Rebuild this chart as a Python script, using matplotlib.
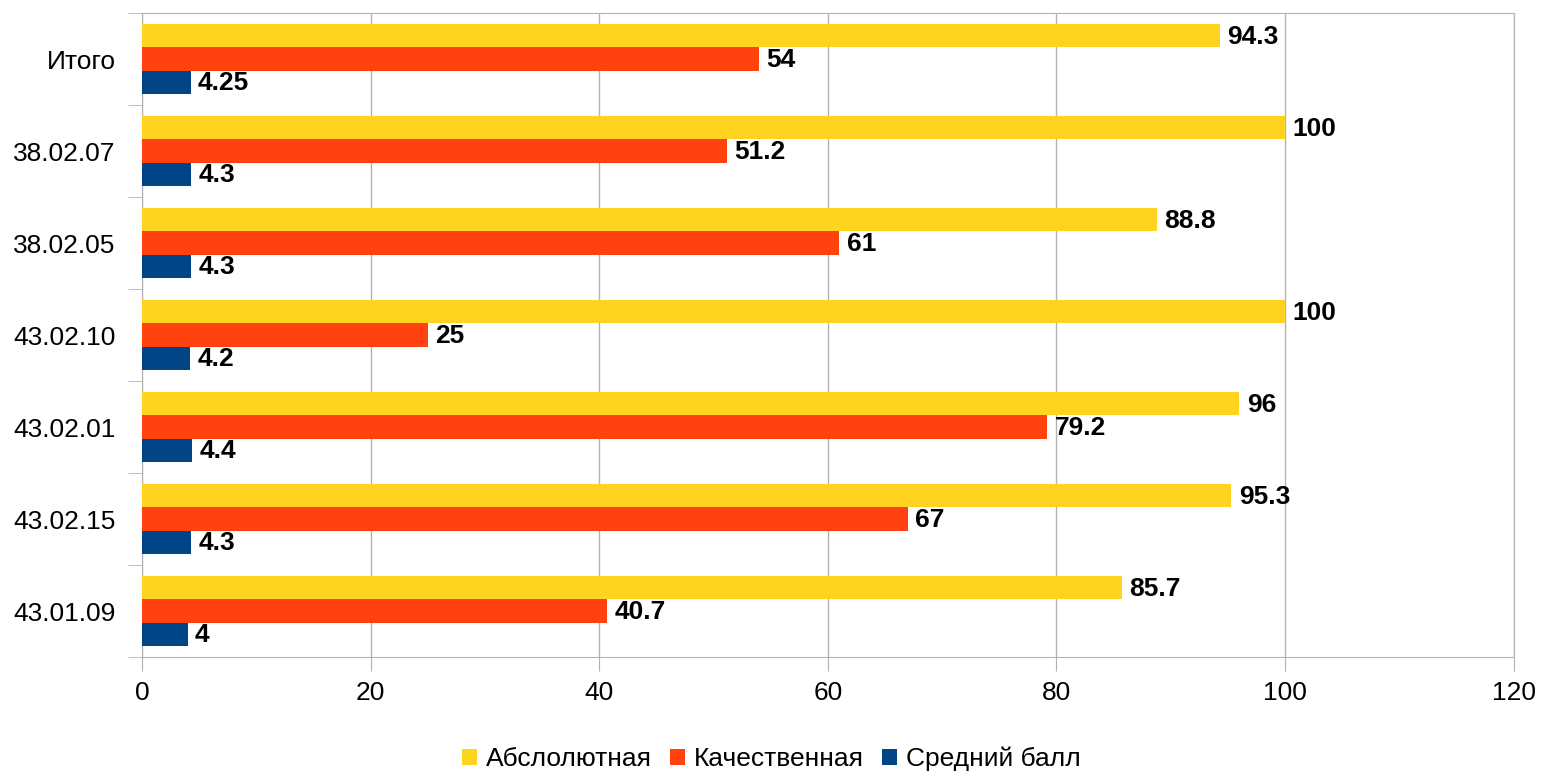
import numpy as np
import matplotlib
matplotlib.use('Agg')
import matplotlib.pyplot as plt
from matplotlib.ticker import FixedLocator

plt.rcParams['font.family'] = ['Liberation Sans', 'DejaVu Sans']

categories = ['43.01.09', '43.02.15', '43.02.01', '43.02.10', '38.02.05', '38.02.07', 'Итого']
absolutnaya = [85.7, 95.3, 96, 100, 88.8, 100, 94.3]
kachestvennaya = [40.7, 67, 79.2, 25, 61, 51.2, 54]
sredniy_ball = [4, 4.3, 4.4, 4.2, 4.3, 4.3, 4.25]
abs_labels = ['85.7', '95.3', '96', '100', '88.8', '100', '94.3']
kach_labels = ['40.7', '67', '79.2', '25', '61', '51.2', '54']
sr_labels = ['4', '4.3', '4.4', '4.2', '4.3', '4.3', '4.25']

series = [
    ('Абслолютная', absolutnaya, abs_labels, '#ffd320'),
    ('Качественная', kachestvennaya, kach_labels, '#ff420e'),
    ('Средний балл', sredniy_ball, sr_labels, '#004586'),
]

fig = plt.figure(figsize=(15.43, 7.73), dpi=100)
ax = fig.add_axes([0.092, 0.150, 0.889, 0.833])

y = np.arange(len(categories))
h = 0.254
offsets = [h, 0, -h]
for (name, vals, labs, col), off in zip(series, offsets):
    bars = ax.barh(y + off, vals, height=h, color=col, label=name, zorder=3)
    for b, lab in zip(bars, labs):
        ax.text(b.get_width() + 0.65, b.get_y() + b.get_height() / 2 - 0.01, lab,
                va='center', ha='left', fontsize=19, fontweight='bold', zorder=4)

ax.set_xlim(0, 120)
ax.set_ylim(-0.5, len(categories) - 0.5)
ax.set_xticks(np.arange(0, 121, 20))
ax.set_yticks(y)
ax.set_yticklabels(categories)
ax.yaxis.set_minor_locator(FixedLocator(np.arange(-0.5, len(categories), 1)))
ax.tick_params(axis='y', which='major', length=0, pad=19, labelsize=19)
ax.tick_params(axis='y', which='minor', length=10, color='#b3b3b3')
ax.tick_params(axis='x', length=10, color='#b3b3b3', labelsize=19, pad=7)
ax.grid(axis='x', color='#b3b3b3', linewidth=1, zorder=0)
for s in ax.spines.values():
    s.set_color('#b3b3b3')

fig.legend(loc='center', bbox_to_anchor=(0.5, 0.018), ncol=3, frameon=False,
           fontsize=19, handlelength=0.55, handleheight=0.55, handletextpad=0.35,
           columnspacing=0.7, borderpad=0)

fig.savefig('out.png', dpi=100)
